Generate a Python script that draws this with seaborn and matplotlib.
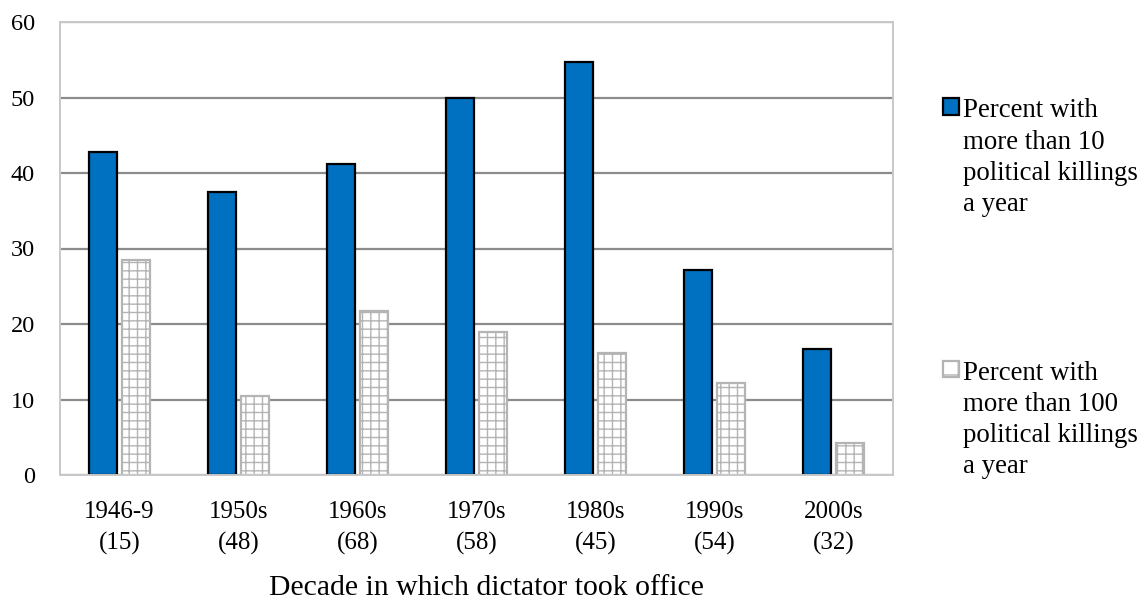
import matplotlib
matplotlib.use("Agg")
import matplotlib.pyplot as plt
import seaborn as sns
import pandas as pd
from matplotlib.patches import Patch

decades = ["1946-9", "1950s", "1960s", "1970s", "1980s", "1990s", "2000s"]
counts = [15, 48, 68, 58, 45, 54, 32]
over_10 = [42.8, 37.5, 41.2, 50.0, 54.7, 27.2, 16.7]
over_100 = [28.5, 10.4, 21.7, 19.0, 16.2, 12.2, 4.2]
series_names = ["Percent with\nmore than 10\npolitical killings\na year",
                "Percent with\nmore than 100\npolitical killings\na year"]
tick_labels = [f"{d}\n({n})" for d, n in zip(decades, counts)]
y_ticks = [0, 10, 20, 30, 40, 50, 60]

df = pd.DataFrame({
    "decade": decades * 2,
    "value": over_10 + over_100,
    "series": [series_names[0]] * len(decades) + [series_names[1]] * len(decades),
})

sns.set_style("white")
plt.rcParams["font.family"] = ["Liberation Serif", "DejaVu Serif"]
plt.rcParams["hatch.linewidth"] = 1.0
for key in ["text.color", "axes.labelcolor", "xtick.labelcolor", "ytick.labelcolor"]:
    plt.rcParams[key] = "black"

BLUE = "#0070C0"
HATCH_GREY = "#B4B4B4"

fig = plt.figure(figsize=(11.42, 5.99), dpi=100)
ax = fig.add_axes([60 / 1142, 1 - 475 / 599, 833 / 1142, 453 / 599])

sns.barplot(data=df, x="decade", y="value", hue="series", order=decades,
            hue_order=series_names, palette=[BLUE, "white"], saturation=1,
            width=0.56, gap=0.16, ax=ax, legend=False, errorbar=None)

for bar in ax.containers[0]:
    bar.set_edgecolor("black")
    bar.set_linewidth(1.6)
for bar in ax.containers[1]:
    bar.set_facecolor("white")
    bar.set_edgecolor(HATCH_GREY)
    bar.set_hatch("++")
    bar.set_linewidth(1.6)

ax.set_ylim(0, 60)
ax.set_yticks(y_ticks)
ax.set_yticklabels([str(t) for t in y_ticks], fontsize=17.5, color="black")
ax.set_xticks(range(len(decades)))
ax.set_xticklabels(tick_labels, fontsize=18, linespacing=1.5, color="black")
ax.tick_params(axis="both", length=0)
ax.tick_params(axis="x", pad=18.5)
ax.tick_params(axis="y", pad=18)
ax.set_xlabel("Decade in which dictator took office", fontsize=21.4, color="black")
ax.xaxis.set_label_coords(0.512, -0.249, transform=ax.transAxes)
ax.xaxis.label.set_va("center")
ax.set_ylabel("")
ax.set_xlim(-0.5, len(decades) - 0.5)

ax.yaxis.grid(True, color="#8C8C8C", linewidth=1.6)
ax.set_axisbelow(True)
for side in ["left", "right", "bottom", "top"]:
    ax.spines[side].set_visible(True)
    ax.spines[side].set_color("#C8C8C8")
    ax.spines[side].set_linewidth(1.4)

handles = [Patch(facecolor=BLUE, edgecolor="black", linewidth=1.6),
           Patch(facecolor="white", edgecolor=HATCH_GREY, linewidth=1.6, hatch="+")]
leg = fig.legend(handles, series_names, loc="upper left",
                 bbox_to_anchor=(930 / 1142, 1 - 85 / 599), frameon=False,
                 fontsize=19.4, handlelength=0.56, handleheight=0.56,
                 handletextpad=0.16, labelspacing=5.35, borderpad=0,
                 labelcolor="black")
# put each legend key beside the first line of its label
for column in leg._legend_handle_box.get_children():
    for row in column.get_children():
        row.align = "top"
for txt in leg.get_texts():
    txt.set_linespacing(1.32)

fig.savefig("out.png", dpi=100)
